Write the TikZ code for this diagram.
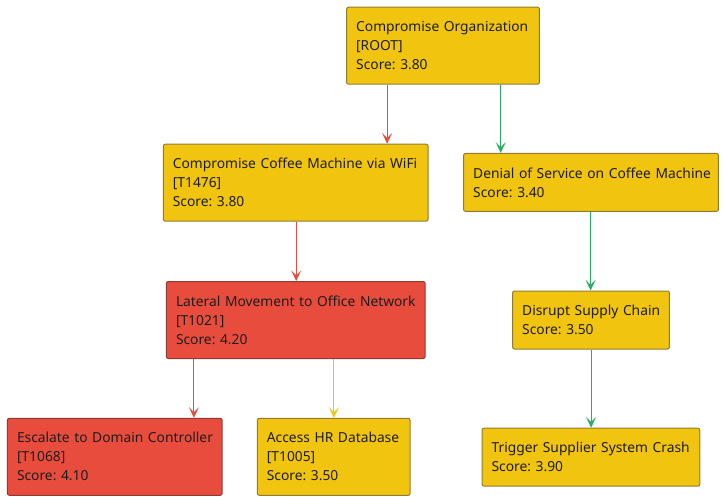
\documentclass[tikz,border=0pt]{standalone}
\usepackage{fontspec}
\setmainfont{Noto Sans}
\usetikzlibrary{arrows.meta,calc}
\definecolor{yfill}{HTML}{F1C40F}
\definecolor{rfill}{HTML}{E74C3C}
\definecolor{yline}{HTML}{8F7C32}
\definecolor{rline}{HTML}{8E3B33}
\definecolor{aline}{HTML}{E74C3C}
\definecolor{gline}{HTML}{27AE60}
\definecolor{txt}{HTML}{1E1E1E}
\frenchspacing
\tikzset{
  bx/.style={rectangle, rounded corners=1.5pt, line width=0.75pt, align=left,
    inner xsep=7.2pt, inner ysep=0pt, text=txt,
    font=\fontsize{10.35pt}{14.25pt}\selectfont},
  ybox/.style={bx, draw=yline, fill=yfill},
  rbox/.style={bx, draw=rline, fill=rfill},
  tall/.style={minimum height=57.75pt},
  short/.style={minimum height=43.5pt},
  arr/.style={line width=0.75pt, -{Stealth[length=8pt,width=7.5pt,inset=3.8pt]}},
  rarr/.style={arr, draw=aline},
  garr/.style={arr, draw=gline},
  yarr/.style={arr, draw=yfill},
}
\begin{document}
\begin{tikzpicture}[x=0.75pt,y=-0.75pt]
\useasboundingbox (0,0) rectangle (723,500);
\node[ybox,tall,text width=130.2pt] (root) at (443,45.7) {\mbox{Compromise Organization}\\{[ROOT]}\\Score: 3.80};
\node[ybox,tall,text width=184.2pt] (wifi) at (295.7,182.7) {\mbox{Compromise Coffee Machine via WiFi}\\{[T1476]}\\Score: 3.80};
\node[ybox,short,text width=176.7pt] (dos) at (591,182.4) {\mbox{Denial of Service on Coffee Machine}\\Score: 3.40};
\node[rbox,tall,text width=179.7pt] (lat) at (295.8,320) {\mbox{Lateral Movement to Office Network}\\{[T1021]}\\Score: 4.20};
\node[ybox,short,text width=103.2pt] (sup) at (591,320) {\mbox{Disrupt Supply Chain}\\Score: 3.50};
\node[rbox,tall,text width=146.7pt] (esc) at (114.8,456.8) {\mbox{Escalate to Domain Controller}\\{[T1068]}\\Score: 4.10};
\node[ybox,tall,text width=100.2pt] (hr) at (333.7,456.8) {\mbox{Access HR Database}\\{[T1005]}\\Score: 3.50};
\node[ybox,short,text width=148.95pt] (crash) at (590.9,457.2) {\mbox{Trigger Supplier System Crash}\\Score: 3.90};
\coordinate (e1) at ($(root.south west)+(41,0)$);
\coordinate (e2) at ($(root.south west)+(154.6,0)$);
\coordinate (e3) at ($(wifi.south west)+(133.4,0)$);
\coordinate (e4) at ($(lat.south west)+(28,0)$);
\coordinate (e5) at ($(lat.south west)+(168,0)$);
\coordinate (e6) at ($(dos.south west)+(127.5,0)$);
\coordinate (e7) at ($(sup.south west)+(79,0)$);
\draw[rarr] (e1) -- (e1 |- wifi.north);
\draw[garr] (e2) -- (e2 |- dos.north);
\draw[rarr] (e3) -- (e3 |- lat.north);
\draw[rarr] (e4) -- (e4 |- esc.north);
\draw[yarr] (e5) -- (e5 |- hr.north);
\draw[garr] (e6) -- (e6 |- sup.north);
\draw[garr] (e7) -- (e7 |- crash.north);
\end{tikzpicture}
\end{document}
